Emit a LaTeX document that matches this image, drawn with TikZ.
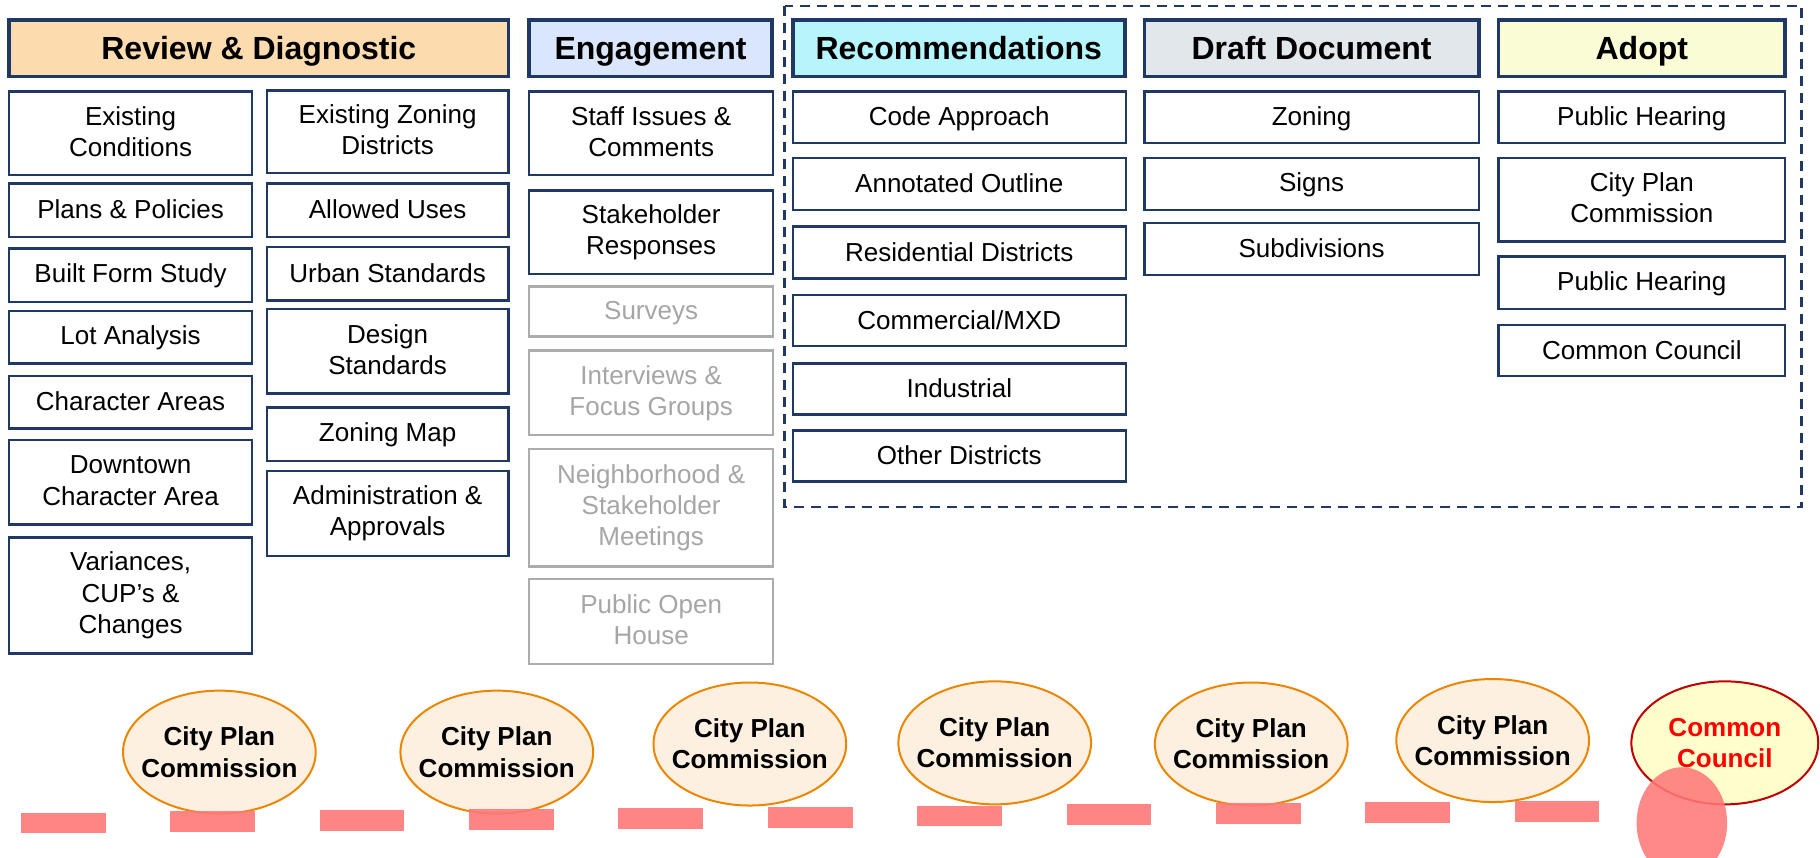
\documentclass[tikz,border=0pt]{standalone}
\usepackage{fontspec}
\setmainfont{Liberation Sans}
\usepackage{tikz}
\usetikzlibrary{positioning,shapes.geometric}
\definecolor{navy}{RGB}{31,56,100}
\definecolor{hdrev}{RGB}{252,219,174}
\definecolor{hdeng}{RGB}{218,230,251}
\definecolor{hdrec}{RGB}{183,245,252}
\definecolor{hddraft}{RGB}{226,231,235}
\definecolor{hdadopt}{RGB}{250,252,214}
\definecolor{boxgrey}{RGB}{172,172,172}
\definecolor{txtgrey}{RGB}{166,166,166}
\definecolor{cpcfill}{RGB}{253,240,225}
\definecolor{cpcline}{RGB}{236,134,0}
\definecolor{ccfill}{RGB}{254,254,204}
\definecolor{ccline}{RGB}{192,0,0}
\definecolor{dashred}{RGB}{255,120,120}

\tikzset{
  box/.style={draw=navy, line width=1.2pt, fill=white, align=center, inner sep=0pt,
    font=\fontsize{13}{15.6}\selectfont,
    execute at begin node={\rule{0pt}{10.5pt}}, execute at end node={\rule[-1.8pt]{0pt}{0pt}}},
  greybox/.style={box, draw=boxgrey, text=txtgrey},
  head/.style={draw=navy, line width=1.8pt, inner sep=0pt, text height=15pt, text depth=3.5pt,
    font=\bfseries\fontsize{16}{19}\selectfont},
  cpc/.style={ellipse, draw=cpcline, line width=1pt, fill=cpcfill, align=center,
    inner ysep=0pt, inner xsep=-5pt,
    minimum width=166*0.58pt, minimum height=106*0.58pt,
    font=\bfseries\fontsize{13}{15.6}\selectfont},
}

\begin{document}
\begin{tikzpicture}[x=0.58pt,y=-0.58pt]
  \def\u{0.58pt}  % one unit of the layout grid
  \clip (0,0) rectangle (1568,739);
  % dashed frame round the later phases
  \draw[navy, line width=1.2pt, dash pattern=on 5pt off 3.5pt] (676,5) rectangle (1552,437);
  % phase headers
  \foreach \nm/\xa/\xb/\col/\txt in {hrev/8/438/hdrev/{Review \& Diagnostic}, heng/456/665/hdeng/Engagement,
      hrec/683/969/hdrec/Recommendations, hdraft/986/1274/hddraft/{Draft Document}, hadopt/1291/1538/hdadopt/Adopt}{
    \node[head, fill=\col, minimum width={(\xb-\xa)*\u}, minimum height=49*\u] (\nm) at ({(\xa+\xb)/2},41.5) {\txt};
  }
  % review & diagnostic, left column
  \foreach \nm/\ya/\yb/\txt in {ec/79/151/{Existing\\Conditions}, pp/158/204/{Plans \& Policies},
      bf/214/260/{Built Form Study}, la/268/313/{Lot Analysis}, ca/324/369/{Character Areas},
      dca/379/452/{Downtown\\Character Area}, var/463/563/{Variances,\\CUP’s \&\\Changes}}{
    \node[box, minimum width=209*\u, minimum height={(\yb-\ya)*\u}] (\nm) at (112.5,{(\ya+\yb)/2}) {\txt};
  }
  % review & diagnostic, right column
  \foreach \nm/\ya/\yb/\txt in {ezd/78/149/{Existing Zoning\\Districts}, au/158/204/{Allowed Uses},
      us/213/259/{Urban Standards}, ds/266/339/{Design\\Standards}, zm/351/397/{Zoning Map},
      aa/406/479/{Administration \&\\Approvals}}{
    \node[box, minimum width=208*\u, minimum height={(\yb-\ya)*\u}] (\nm) at (334,{(\ya+\yb)/2}) {\txt};
  }
  % engagement (grey = not yet held)
  \foreach \nm/\ya/\yb/\st/\txt in {sic/79/151/box/{Staff Issues \&\\Comments}, sr/164/236/box/{Stakeholder\\Responses},
      sv/247/290/greybox/Surveys, ifg/302/375/greybox/{Interviews \&\\Focus Groups},
      nsm/387/488/greybox/{Neighborhood \&\\Stakeholder\\Meetings}, poh/499/572/greybox/{Public Open\\House}}{
    \node[\st, minimum width=210*\u, minimum height={(\yb-\ya)*\u}] (\nm) at (561,{(\ya+\yb)/2}) {\txt};
  }
  % recommendations
  \foreach \nm/\ya/\yb/\txt in {cap/79/123/{Code Approach}, ao/136/181/{Annotated Outline},
      resd/195/240/{Residential Districts}, cmx/254/298/{Commercial/MXD}, ind/313/357/Industrial,
      od/371/415/{Other Districts}}{
    \node[box, minimum width=287*\u, minimum height={(\yb-\ya)*\u}] (\nm) at (826.5,{(\ya+\yb)/2}) {\txt};
  }
  % draft document
  \foreach \nm/\ya/\yb/\txt in {dz/79/123/Zoning, dsg/136/181/Signs, dsub/192/237/Subdivisions}{
    \node[box, minimum width=288*\u, minimum height={(\yb-\ya)*\u}] (\nm) at (1130,{(\ya+\yb)/2}) {\txt};
  }
  % adopt
  \foreach \nm/\ya/\yb/\txt in {ph1/79/123/{Public Hearing}, acpc/136/208/{City Plan\\Commission},
      ph2/221/266/{Public Hearing}, acc/280/324/{Common Council}}{
    \node[box, minimum width=247*\u, minimum height={(\yb-\ya)*\u}] (\nm) at (1414.5,{(\ya+\yb)/2}) {\txt};
  }
  % meetings along the timeline
  \foreach \i/\x/\y in {1/189/648, 2/428/648, 3/646/641, 4/857/640, 5/1078/641, 6/1286/638}{
    \node[cpc] (cpc\i) at (\x,\y) {City Plan\\Commission};
  }
  \node[cpc, draw=ccline, fill=ccfill, text={rgb,255:red,255;green,0;blue,0},
    minimum width=161*\u] (council) at (1486,640) {Common\\Council};
  % timeline dashes
  \foreach \i in {0,...,10}{
    \fill[dashred, opacity=0.9] ({18+128.7*\i},{700-\i}) rectangle ++(73,18);
  }
  \fill[dashred, opacity=0.88] (1449,709) ellipse [x radius=39, y radius=48];
\end{tikzpicture}
\end{document}
